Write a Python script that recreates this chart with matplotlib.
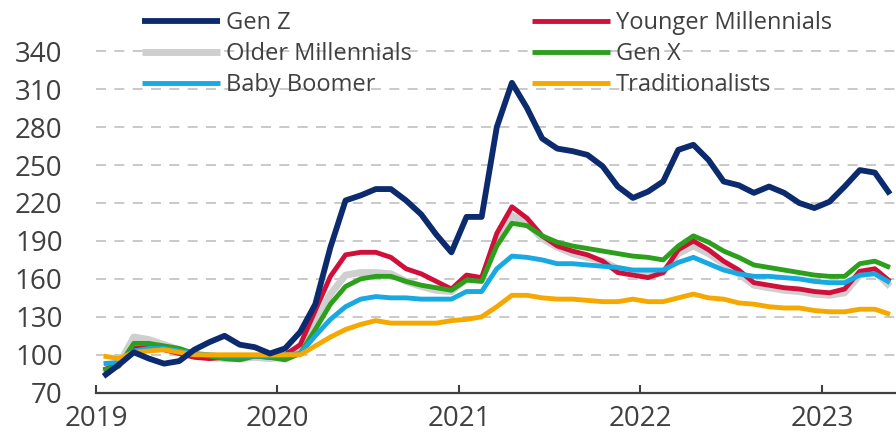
import numpy as np
import matplotlib
matplotlib.use("Agg")
import matplotlib.pyplot as plt

# monthly index values, Jan 2019 .. May 2023
months = np.arange(53)
gen_z = [83, 92, 102, 97, 93, 95, 104, 110, 115, 108, 106, 101,
         105, 118, 140, 185, 222, 226, 231, 231, 222, 211, 195, 181,
         209, 209, 280, 315, 295, 271, 263, 261, 258, 249, 233, 224,
         229, 237, 262, 266, 254, 237, 234, 228, 233, 228, 220, 216,
         221, 233, 246, 244, 227]
younger_mill = [88, 93, 105, 106, 104, 101, 98, 97, 98, 99, 99, 98,
                100, 108, 135, 162, 179, 181, 181, 177, 168, 164, 158, 152,
                163, 161, 196, 217, 208, 194, 186, 182, 179, 174, 165, 163,
                161, 165, 183, 190, 183, 174, 167, 157, 155, 153, 152, 150,
                149, 152, 166, 168, 158]
older_mill = [86, 92, 114, 112, 108, 104, 100, 98, 97, 97, 98, 97,
              98, 102, 125, 148, 163, 165, 165, 164, 158, 154, 151, 150,
              160, 159, 190, 210, 204, 192, 185, 180, 177, 174, 168, 165,
              164, 165, 180, 186, 180, 172, 164, 155, 153, 151, 150, 148,
              147, 149, 163, 166, 154]
gen_x = [88, 91, 109, 109, 107, 105, 101, 99, 97, 96, 99, 98,
         96, 101, 120, 140, 154, 160, 162, 162, 158, 155, 153, 151,
         159, 158, 186, 204, 202, 194, 189, 186, 184, 182, 180, 178,
         177, 175, 186, 194, 189, 182, 177, 171, 169, 167, 165, 163,
         162, 162, 172, 174, 169]
baby_boomer = [93, 94, 103, 105, 105, 103, 101, 100, 99, 99, 99, 99,
               100, 101, 115, 128, 138, 144, 146, 145, 145, 144, 144, 144,
               150, 150, 168, 178, 177, 175, 172, 172, 171, 170, 169, 167,
               167, 167, 173, 177, 172, 167, 164, 162, 162, 161, 160, 158,
               157, 157, 163, 164, 157]
traditionalists = [99, 97, 102, 103, 104, 102, 100, 100, 100, 100, 100, 100,
                   100, 100, 107, 114, 120, 124, 127, 125, 125, 125, 125, 127,
                   128, 130, 138, 147, 147, 145, 144, 144, 143, 142, 142, 144,
                   142, 142, 145, 148, 145, 144, 141, 140, 138, 137, 137, 135,
                   134, 134, 136, 136, 132]

year_ticks = [2019, 2020, 2021, 2022, 2023]
y_ticks = list(range(70, 341, 30))

plt.rcParams["font.family"] = ["Open Sans", "DejaVu Sans"]
text_c = "#404040"

fig = plt.figure(figsize=(8.96, 4.33), dpi=100)
ax = fig.add_axes([96 / 896, 0.093, 1 - 96 / 896, 0.818])

t = 2019 + (months + 0.5) / 12
ax.plot(t, older_mill, color="#cfcfcf", lw=5.0, label="Older Millennials",
        solid_capstyle="butt", zorder=2)
ax.plot(t, younger_mill, color="#d0103a", lw=3.5, label="Younger Millennials",
        solid_capstyle="butt", zorder=3)
ax.plot(t, gen_x, color="#2ca01c", lw=3.5, label="Gen X",
        solid_capstyle="butt", zorder=4)
ax.plot(t, baby_boomer, color="#18a8e2", lw=3.5, label="Baby Boomer",
        solid_capstyle="butt", zorder=5)
ax.plot(t, traditionalists, color="#f5a800", lw=3.5, label="Traditionalists",
        solid_capstyle="butt", zorder=6)
ax.plot(t, gen_z, color="#0c2a6e", lw=4.2, label="Gen Z",
        solid_capstyle="butt", zorder=7)

ax.set_xlim(2019, 2023.408)
ax.set_ylim(70, 350)
ax.set_xticks(year_ticks)
ax.set_xticklabels([str(y) for y in year_ticks])
ax.set_yticks(y_ticks)
for s in ["left", "right", "top"]:
    ax.spines[s].set_visible(False)
ax.spines["bottom"].set_color(text_c)
ax.spines["bottom"].set_linewidth(1.6)
ax.tick_params(axis="x", direction="in", length=6, width=1.5, color=text_c,
               labelsize=20, labelcolor=text_c, pad=9)
ax.tick_params(axis="y", length=0, labelsize=20, labelcolor=text_c, pad=24)
ax.yaxis.grid(True, color="#c0c0c0", lw=1.2, dashes=(6, 5))
ax.set_axisbelow(True)
ax.patch.set_alpha(0)

# legend fills column-wise: left column first
order = ["Gen Z", "Older Millennials", "Baby Boomer",
         "Younger Millennials", "Gen X", "Traditionalists"]
handles, labels = ax.get_legend_handles_labels()
hmap = dict(zip(labels, handles))
fig.legend([hmap[k] for k in order], order, ncol=2, loc="upper left",
           bbox_to_anchor=(142 / 896, 1 - 11 / 433), frameon=False,
           fontsize=17, handlelength=3.3, handletextpad=0.25,
           columnspacing=5.1, labelspacing=0.3, borderpad=0,
           borderaxespad=0, labelcolor=text_c)

fig.savefig("out.png", dpi=100)
